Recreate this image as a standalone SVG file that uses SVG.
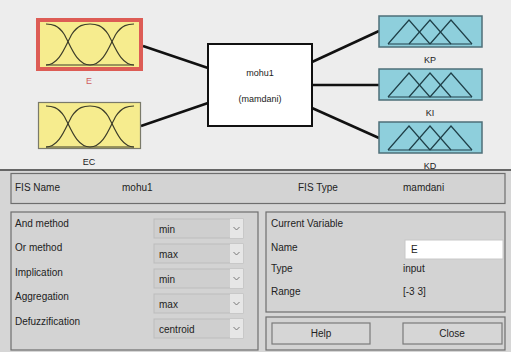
<svg xmlns="http://www.w3.org/2000/svg" width="511" height="352" viewBox="0 0 511 352">
<style>
text{font-family:"Liberation Sans",Arial,sans-serif;font-size:10px;fill:#222}
.sm{font-size:9px}
.mf{fill:none;stroke:#3d3d2a;stroke-width:1.2}
.tri{fill:none;stroke:#1f3f48;stroke-width:1.2}
.yel{fill:#f6ec8e}
.blu{fill:#8ecfdc;stroke:#4e6f78;stroke-width:1.5}
.conn{stroke:#111;stroke-width:2.5;fill:none}
.panel{fill:#d3d3d3;stroke:#6e6e6e;stroke-width:1.2}
.dd{fill:#cfcfcf;stroke:#bdbdbd;stroke-width:1}
.arr{fill:#e6e6e6}
.btn{fill:#d6d6d6;stroke:#7a7a7a;stroke-width:1.2}
</style>
<defs>
<g id="gauss">
<path class="mf" d="M46,24 C52,24 58,25 64,34 C70,44 76,65 90,65"/>
<path class="mf" d="M46,65 C60,65 66,44 72,34 C78,25 84,24 90,24 C96,24 102,25 108,34 C114,44 120,65 134,65"/>
<path class="mf" d="M90,65 C104,65 110,44 116,34 C122,25 128,24 134,24"/>
<line class="mf" x1="46" y1="65" x2="134" y2="65"/>
</g>
<g id="tris">
<polyline class="tri" points="388,44 409,20 430,44"/>
<polyline class="tri" points="409,44 430,20 451,44"/>
<polyline class="tri" points="430,44 451,20 472,44"/>
<line class="tri" x1="388" y1="44" x2="472" y2="44"/>
</g>
<path id="chev" d="M-3,-1.5 L0,1.5 L3,-1.5" fill="none" stroke="#777" stroke-width="1"/>
</defs>
<rect x="0" y="0" width="511" height="170" fill="#ededed"/>
<rect x="0" y="170" width="511" height="182" fill="#d6d6d6"/>
<g id="connectors">
<line class="conn" x1="143" y1="46" x2="208" y2="68"/>
<line class="conn" x1="141" y1="126" x2="208" y2="103"/>
<line class="conn" x1="312" y1="62" x2="379" y2="31"/>
<line class="conn" x1="312" y1="85" x2="379" y2="85"/>
<line class="conn" x1="312" y1="108" x2="379" y2="138"/>
</g>
<g id="node-E">
<rect x="38" y="20" width="103" height="49" class="yel" stroke="#dd5c55" stroke-width="4"/>
<use href="#gauss"/>
<text x="89" y="84" text-anchor="middle" class="sm" fill="#d06060" style="fill:#d06060">E</text>
</g>
<g id="node-EC">
<rect x="38.5" y="102.5" width="102" height="46" class="yel" stroke="#7a7a6a" stroke-width="1.2"/>
<use href="#gauss" transform="translate(0,82)"/>
<text x="89" y="165" text-anchor="middle" class="sm">EC</text>
</g>
<g id="node-mohu1">
<rect x="208" y="44" width="104" height="82" fill="#fff" stroke="#111" stroke-width="2"/>
<text x="260" y="76" text-anchor="middle" class="sm">mohu1</text>
<text x="260" y="102" text-anchor="middle" class="sm">(mamdani)</text>
</g>
<g id="node-KP">
<rect x="379" y="16" width="103" height="31" class="blu"/>
<use href="#tris"/>
<text x="430" y="63" text-anchor="middle" class="sm">KP</text>
</g>
<g id="node-KI">
<rect x="379" y="69" width="103" height="31" class="blu"/>
<use href="#tris" transform="translate(0,53)"/>
<text x="430" y="116" text-anchor="middle" class="sm">KI</text>
</g>
<g id="node-KD">
<rect x="379" y="122" width="103" height="31" class="blu"/>
<use href="#tris" transform="translate(0,106)"/>
<text x="430" y="169" text-anchor="middle" class="sm">KD</text>
</g>
<line x1="0" y1="170" x2="511" y2="170" stroke="#666" stroke-width="2"/>
<g id="fis-info">
<rect x="11" y="173.5" width="494" height="30" class="panel"/>
<text x="15" y="191">FIS Name</text>
<text x="122" y="191">mohu1</text>
<text x="298" y="191">FIS Type</text>
<text x="403" y="191">mamdani</text>
</g>
<g id="methods">
<rect x="11" y="212" width="247" height="138" class="panel"/>
<text x="15" y="227">And method</text>
<text x="15" y="251">Or method</text>
<text x="15" y="276">Implication</text>
<text x="15" y="300">Aggregation</text>
<text x="15" y="325">Defuzzification</text>
<rect x="154" y="219" width="89" height="19" class="dd"/><rect x="230" y="219" width="13" height="19" class="arr"/><use href="#chev" x="236.5" y="228.5"/>
<text x="159" y="233">min</text>
<rect x="154" y="244" width="89" height="19" class="dd"/><rect x="230" y="244" width="13" height="19" class="arr"/><use href="#chev" x="236.5" y="253.5"/>
<text x="159" y="258">max</text>
<rect x="154" y="269" width="89" height="19" class="dd"/><rect x="230" y="269" width="13" height="19" class="arr"/><use href="#chev" x="236.5" y="278.5"/>
<text x="159" y="283">min</text>
<rect x="154" y="294" width="89" height="19" class="dd"/><rect x="230" y="294" width="13" height="19" class="arr"/><use href="#chev" x="236.5" y="303.5"/>
<text x="159" y="308">max</text>
<rect x="154" y="319" width="89" height="19" class="dd"/><rect x="230" y="319" width="13" height="19" class="arr"/><use href="#chev" x="236.5" y="328.5"/>
<text x="159" y="333">centroid</text>
</g>
<g id="current-variable">
<rect x="266" y="212" width="239" height="100" class="panel"/>
<text x="271" y="227">Current Variable</text>
<text x="271" y="251">Name</text>
<rect x="405" y="240" width="98" height="19" fill="#fff" stroke="#c8c8c8"/>
<text x="411" y="253">E</text>
<text x="271" y="272">Type</text>
<text x="403" y="272">input</text>
<text x="271" y="295">Range</text>
<text x="403" y="295">[-3 3]</text>
</g>
<g id="buttons">
<rect x="266" y="317" width="239" height="33" class="panel"/>
<rect x="272" y="323" width="98" height="21" class="btn"/>
<text x="321" y="337" text-anchor="middle">Help</text>
<rect x="403" y="323" width="99" height="21" class="btn"/>
<text x="452" y="337" text-anchor="middle">Close</text>
</g>
</svg>
